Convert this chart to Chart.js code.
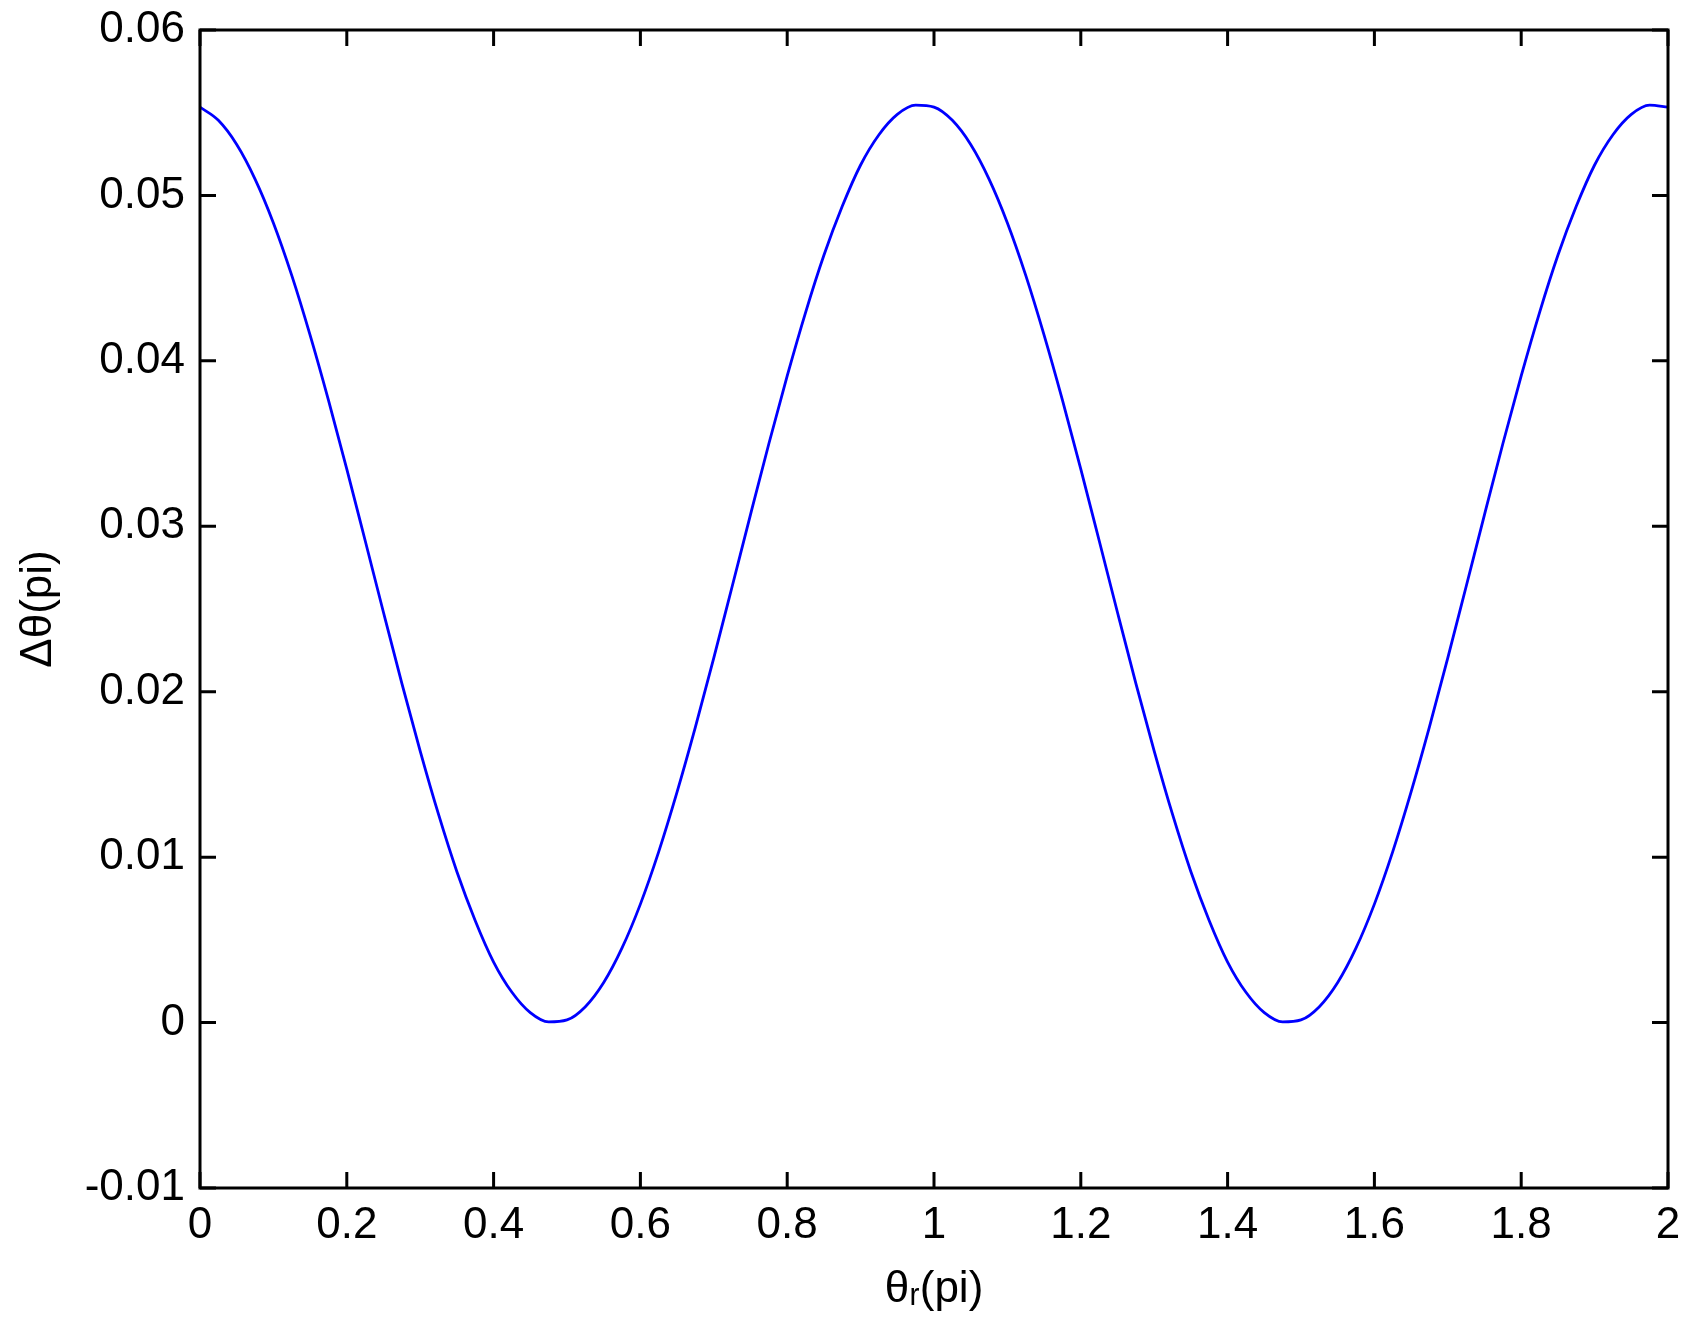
<!DOCTYPE html>
<html lang="en">
<head>
    <meta charset="UTF-8">
    <title>Δθ vs θr</title>
    <script src="https://cdn.jsdelivr.net/npm/chart.js"></script>
    <style>
        body {
            margin: 0;
            background: #ffffff;
        }
        #wrap {
            width: 1694px;
            height: 1330px;
        }
    </style>
</head>
<body>
<div id="wrap">
    <canvas id="curveChart" width="1694" height="1330"></canvas>
</div>

<script>
// theta_r in units of pi (x axis)
const thetaR = [
    0, 0.025, 0.05, 0.075, 0.1, 0.125, 0.15, 0.175, 0.2, 0.225,
    0.25, 0.275, 0.3, 0.325, 0.35, 0.375, 0.4, 0.425, 0.45, 0.475,
    0.5, 0.525, 0.55, 0.575, 0.6, 0.625, 0.65, 0.675, 0.7, 0.725,
    0.75, 0.775, 0.8, 0.825, 0.85, 0.875, 0.9, 0.925, 0.95, 0.975,
    1, 1.025, 1.05, 1.075, 1.1, 1.125, 1.15, 1.175, 1.2, 1.225,
    1.25, 1.275, 1.3, 1.325, 1.35, 1.375, 1.4, 1.425, 1.45, 1.475,
    1.5, 1.525, 1.55, 1.575, 1.6, 1.625, 1.65, 1.675, 1.7, 1.725,
    1.75, 1.775, 1.8, 1.825, 1.85, 1.875, 1.9, 1.925, 1.95, 1.975,
    2
];

// delta theta in units of pi
const deltaTheta = [
    0.05534, 0.05454, 0.05308, 0.05099, 0.04834, 0.04517, 0.04156, 0.03763, 0.03346, 0.02914,
    0.02479, 0.02051, 0.01641, 0.01258, 0.00912, 0.00616, 0.00366, 0.00183, 0.00060, 0.00004,
    0.00016, 0.00096, 0.00242, 0.00451, 0.00716, 0.01033, 0.01394, 0.01787, 0.02204, 0.02636,
    0.03071, 0.03499, 0.03909, 0.04292, 0.04638, 0.04934, 0.05184, 0.05367, 0.05490, 0.05546,
    0.05534, 0.05454, 0.05308, 0.05099, 0.04834, 0.04517, 0.04156, 0.03763, 0.03346, 0.02914,
    0.02479, 0.02051, 0.01641, 0.01258, 0.00912, 0.00616, 0.00366, 0.00183, 0.00060, 0.00004,
    0.00016, 0.00096, 0.00242, 0.00451, 0.00716, 0.01033, 0.01394, 0.01787, 0.02204, 0.02636,
    0.03071, 0.03499, 0.03909, 0.04292, 0.04638, 0.04934, 0.05184, 0.05367, 0.05490, 0.05546,
    0.05534
];

// tick values and labels
const xTicks = [0, 0.2, 0.4, 0.6, 0.8, 1, 1.2, 1.4, 1.6, 1.8, 2];
const xTickLabels = ['0', '0.2', '0.4', '0.6', '0.8', '1', '1.2', '1.4', '1.6', '1.8', '2'];
const yTicks = [-0.01, 0, 0.01, 0.02, 0.03, 0.04, 0.05, 0.06];
const yTickLabels = ['-0.01', '0', '0.01', '0.02', '0.03', '0.04', '0.05', '0.06'];

const FONT = '"Liberation Sans", Arial, sans-serif';

// box around the plot with inward ticks on all four sides (matlab style)
const frameBox = {
    id: 'frameBox',
    afterDraw(chart) {
        const { ctx, chartArea: a, scales } = chart;
        const len = 16;
        ctx.save();
        ctx.strokeStyle = '#000';
        ctx.lineWidth = 3;
        ctx.strokeRect(a.left, a.top, a.right - a.left, a.bottom - a.top);
        ctx.beginPath();
        xTicks.forEach(v => {
            const px = scales.x.getPixelForValue(v);
            ctx.moveTo(px, a.bottom); ctx.lineTo(px, a.bottom - len);
            ctx.moveTo(px, a.top); ctx.lineTo(px, a.top + len);
        });
        yTicks.forEach(v => {
            const py = scales.y.getPixelForValue(v);
            ctx.moveTo(a.left, py); ctx.lineTo(a.left + len, py);
            ctx.moveTo(a.right, py); ctx.lineTo(a.right - len, py);
        });
        ctx.stroke();
        ctx.restore();
    }
};

const points = thetaR.map((x, i) => ({ x: x, y: deltaTheta[i] }));

new Chart(document.getElementById('curveChart'), {
    type: 'line',
    data: {
        datasets: [{
            data: points,
            borderColor: '#0000ff',
            borderWidth: 2.8,
            pointRadius: 0,
            fill: false,
            cubicInterpolationMode: 'monotone'
        }]
    },
    options: {
        responsive: false,
        animation: false,
        layout: { padding: { top: 30, right: 26, left: 0, bottom: 0 } },
        plugins: {
            legend: { display: false },
            tooltip: { enabled: false }
        },
        scales: {
            x: {
                type: 'linear',
                min: 0,
                max: 2,
                afterBuildTicks: s => { s.ticks = xTicks.map(v => ({ value: v })); },
                afterFit: s => { s.height = 142; },
                grid: { display: false, drawTicks: false },
                border: { display: false },
                ticks: {
                    padding: 11,
                    color: '#000',
                    font: { family: FONT, size: 44 },
                    maxRotation: 0,
                    callback: (v, i) => xTickLabels[i]
                },
                title: {
                    display: true,
                    text: 'θᵣ(pi)',
                    color: '#000',
                    font: { family: FONT, size: 44 },
                    padding: { top: 0, bottom: 14 }
                }
            },
            y: {
                type: 'linear',
                min: -0.01,
                max: 0.06,
                afterBuildTicks: s => { s.ticks = yTicks.map(v => ({ value: v })); },
                afterFit: s => { s.width = 200; },
                grid: { display: false, drawTicks: false },
                border: { display: false },
                ticks: {
                    padding: 15,
                    color: '#000',
                    // small line height so the half-label padding does not push the plot down
                    font: { family: FONT, size: 44, lineHeight: 0.3 },
                    callback: (v, i) => yTickLabels[i]
                },
                title: {
                    display: true,
                    text: 'Δθ(pi)',
                    color: '#000',
                    font: { family: FONT, size: 44 },
                    padding: { top: 12, bottom: 0 }
                }
            }
        }
    },
    plugins: [frameBox]
});
</script>
</body>
</html>
